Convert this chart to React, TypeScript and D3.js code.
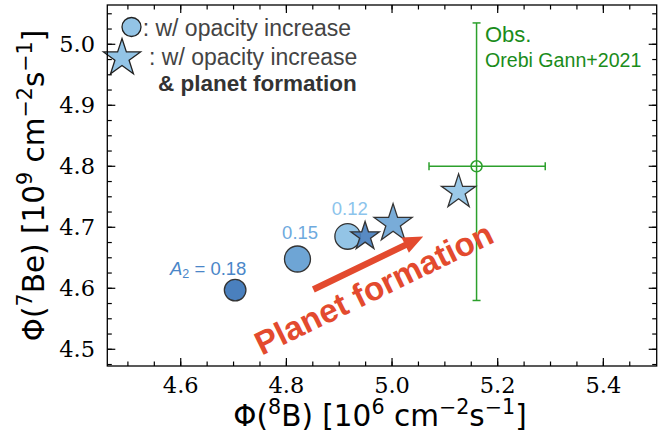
import * as d3 from "d3";

// A2 runs: opacity increase only (circles)
const a2Labels = ["0.18", "0.15", "0.12"];
const circleB8 = [4.703, 4.821, 4.916];
const circleBe7 = [4.597, 4.648, 4.685];
const circleR = [10.8, 13, 12.8];

// opacity increase + planet formation (stars)
const starB8 = [4.949, 5.002, 5.126];
const starBe7 = [4.685, 4.706, 4.758];
const starR = [15, 20, 18];

// annotation anchors (data coords)
const labelB8 = [4.652, 4.826, 4.92];
const labelBe7 = [4.621, 4.68, 4.72];

// observation (Orebi Gann+2021)
const obsB8 = 5.16;
const obsB8Err = [0.09, 0.13];
const obsBe7 = 4.8;
const obsBe7Err = [0.22, 0.235];

// planet formation arrow, tail -> head
const arrowB8 = [4.851, 5.059];
const arrowBe7 = [4.598, 4.685];

const xTicks = [4.6, 4.8, 5.0, 5.2, 5.4];
const yTicks = [4.5, 4.6, 4.7, 4.8, 4.9, 5.0];

const fills = ["#4a80be", "#6ea5d5", "#93c4e6"];
const labelColors = ["#4a86c8", "#6eaade", "#8cc4ec"];

const W = 667;
const H = 440;
const left = 107.3, right = 656.7, top = 5, bottom = 366;

const sans = "'Liberation Sans', Arial, Helvetica, sans-serif";
const dejavu = "'DejaVu Sans', sans-serif";
const serif = "'DejaVu Serif', serif";

function starPath(R: number) {
  const pts: [number, number][] = [];
  for (let i = 0; i < 10; i++) {
    const r = i % 2 === 0 ? R : R * 0.381966;
    const a = -Math.PI / 2 + (i * Math.PI) / 5;
    pts.push([r * Math.cos(a), r * Math.sin(a)]);
  }
  return "M" + pts.map((p) => p.join(",")).join("L") + "Z";
}

const Sup = ({ children, size }: { children: string; size: number }) => (
  <tspan fontSize={size * 0.7} baselineShift={size * 0.4}>
    {children}
  </tspan>
);

export default function App() {
  const x = d3.scaleLinear([4.461, 5.501], [left, right]);
  const y = d3.scaleLinear([4.4726, 5.0644], [bottom, top]);

  const xMinor = d3.range(4.5, 5.51, 0.05).filter((v) => x(v) > left + 1 && x(v) < right - 1);
  const yMinor = d3.range(4.475, 5.06, 0.025).filter((v) => y(v) < bottom - 1 && y(v) > top + 1);

  // arrow polygon
  const x0 = x(arrowB8[0]), y0 = y(arrowBe7[0]);
  const x1 = x(arrowB8[1]), y1 = y(arrowBe7[1]);
  const len = Math.hypot(x1 - x0, y1 - y0);
  const ux = (x1 - x0) / len, uy = (y1 - y0) / len;
  const nx = -uy, ny = ux;
  const sw = 3.2, hw = 8.5, hl = 20;
  const bx = x1 - ux * hl, by = y1 - uy * hl;
  const arrowPts = [
    [x0 + nx * sw, y0 + ny * sw],
    [bx + nx * sw, by + ny * sw],
    [bx + nx * hw, by + ny * hw],
    [x1, y1],
    [bx - nx * hw, by - ny * hw],
    [bx - nx * sw, by - ny * sw],
    [x0 - nx * sw, y0 - ny * sw],
  ];

  const green = "#2ca02c";
  const ox = x(obsB8), oy = y(obsBe7);
  const labFs = 29.5;
  const px = x(4.975), py = y(4.583);

  return (
    <svg width={W} height={H} style={{ position: "absolute", left: 0, top: 0 }}>
      <rect width={W} height={H} fill="white" />

      {/* observation error bars */}
      <g stroke={green} strokeWidth={1.5} fill="none">
        <line x1={x(obsB8 - obsB8Err[0])} x2={x(obsB8 + obsB8Err[1])} y1={oy} y2={oy} />
        <line x1={ox} x2={ox} y1={y(obsBe7 - obsBe7Err[0])} y2={y(obsBe7 + obsBe7Err[1])} />
        <line x1={x(obsB8 - obsB8Err[0])} x2={x(obsB8 - obsB8Err[0])} y1={oy - 4} y2={oy + 4} />
        <line x1={x(obsB8 + obsB8Err[1])} x2={x(obsB8 + obsB8Err[1])} y1={oy - 4} y2={oy + 4} />
        <line x1={ox - 4} x2={ox + 4} y1={y(obsBe7 - obsBe7Err[0])} y2={y(obsBe7 - obsBe7Err[0])} />
        <line x1={ox - 4} x2={ox + 4} y1={y(obsBe7 + obsBe7Err[1])} y2={y(obsBe7 + obsBe7Err[1])} />
        <circle cx={ox} cy={oy} r={5.5} />
      </g>
      <text x={485} y={42} fontFamily={sans} fontSize={22} fill="#1a8c1a">Obs.</text>
      <text x={485} y={67} fontFamily={sans} fontSize={19.6} fill="#1a8c1a">Orebi Gann+2021</text>

      {/* circles */}
      {circleB8.map((v, i) => (
        <circle key={"c" + i} cx={x(v)} cy={y(circleBe7[i])} r={circleR[i]}
          fill={fills[i]} stroke="#333" strokeWidth={1.3} />
      ))}
      {/* stars */}
      {starB8.map((v, i) => (
        <path key={"s" + i} d={starPath(starR[i])} transform={`translate(${x(v)},${y(starBe7[i])})`}
          fill={fills[i]} fillOpacity={0.92} stroke="#333" strokeWidth={1.3} strokeLinejoin="miter" />
      ))}

      {/* A2 labels */}
      {a2Labels.map((t, i) => (
        <text key={"l" + i} x={x(labelB8[i])} y={y(labelBe7[i])} textAnchor="middle"
          fontFamily={sans} fontSize={18.5} fill={labelColors[i]}>
          {i === 0 ? (
            <>
              <tspan fontStyle="italic">A</tspan>
              <tspan fontSize={12.5} dy={3}>2</tspan>
              <tspan dy={-3}>{" = " + t}</tspan>
            </>
          ) : t}
        </text>
      ))}

      {/* arrow + label */}
      <polygon points={arrowPts.map((p) => p.join(",")).join(" ")} fill="#e34a2e" />
      <text x={px} y={py} textAnchor="middle" fontFamily={sans} fontWeight="bold"
        fontSize={33} fill="#e34a2e" transform={`rotate(-26 ${px} ${py})`}>
        Planet formation
      </text>

      {/* legend */}
      <circle cx={131.5} cy={27} r={9.5} fill={fills[2]} stroke="#222" strokeWidth={1.3} />
      <text x={142.7} y={36} fontFamily={sans} fontSize={23} fill="#444">: w/ opacity increase</text>
      <path d={starPath(19.5)} transform="translate(122,58)" fill={fills[2]} stroke="#222" strokeWidth={1.3} />
      <text x={149} y={64.5} fontFamily={sans} fontSize={23} fill="#444">: w/ opacity increase</text>
      <text x={158} y={91} fontFamily={sans} fontSize={22.5} fontWeight="bold" fill="#333">&amp; planet formation</text>

      {/* frame & ticks */}
      <rect x={left} y={top} width={right - left} height={bottom - top} fill="none" stroke="black" strokeWidth={1.3} />
      <g stroke="black" strokeWidth={1.2}>
        {xTicks.map((v) => (
          <g key={"xt" + v}>
            <line x1={x(v)} x2={x(v)} y1={bottom} y2={bottom - 8} />
            <line x1={x(v)} x2={x(v)} y1={top} y2={top + 8} />
          </g>
        ))}
        {xMinor.map((v, i) => (
          <g key={"xm" + i}>
            <line x1={x(v)} x2={x(v)} y1={bottom} y2={bottom - 4.5} />
            <line x1={x(v)} x2={x(v)} y1={top} y2={top + 4.5} />
          </g>
        ))}
        {yTicks.map((v) => (
          <g key={"yt" + v}>
            <line x1={left} x2={left + 8} y1={y(v)} y2={y(v)} />
            <line x1={right} x2={right - 8} y1={y(v)} y2={y(v)} />
          </g>
        ))}
        {yMinor.map((v, i) => (
          <g key={"ym" + i}>
            <line x1={left} x2={left + 4.5} y1={y(v)} y2={y(v)} />
            <line x1={right} x2={right - 4.5} y1={y(v)} y2={y(v)} />
          </g>
        ))}
      </g>
      {xTicks.map((v) => (
        <text key={"xl" + v} x={x(v)} y={392.5} textAnchor="middle" fontFamily={serif} fontSize={22.5}>
          {v.toFixed(1)}
        </text>
      ))}
      {yTicks.map((v) => (
        <text key={"yl" + v} x={95} y={y(v)} dy="0.36em" textAnchor="end" fontFamily={serif} fontSize={22.5}>
          {v.toFixed(1)}
        </text>
      ))}

      {/* axis labels */}
      <text x={(left + right) / 2 - 2} y={426} textAnchor="middle" fontFamily={dejavu} fontSize={labFs}>
        Φ(<Sup size={labFs}>8</Sup>B) [10<Sup size={labFs}>6</Sup> cm<Sup size={labFs}>−2</Sup>s<Sup size={labFs}>−1</Sup>]
      </text>
      <text transform={`translate(44,${(top + bottom) / 2}) rotate(-90)`} textAnchor="middle"
        fontFamily={dejavu} fontSize={labFs}>
        Φ(<Sup size={labFs}>7</Sup>Be) [10<Sup size={labFs}>9</Sup> cm<Sup size={labFs}>−2</Sup>s<Sup size={labFs}>−1</Sup>]
      </text>
    </svg>
  );
}
